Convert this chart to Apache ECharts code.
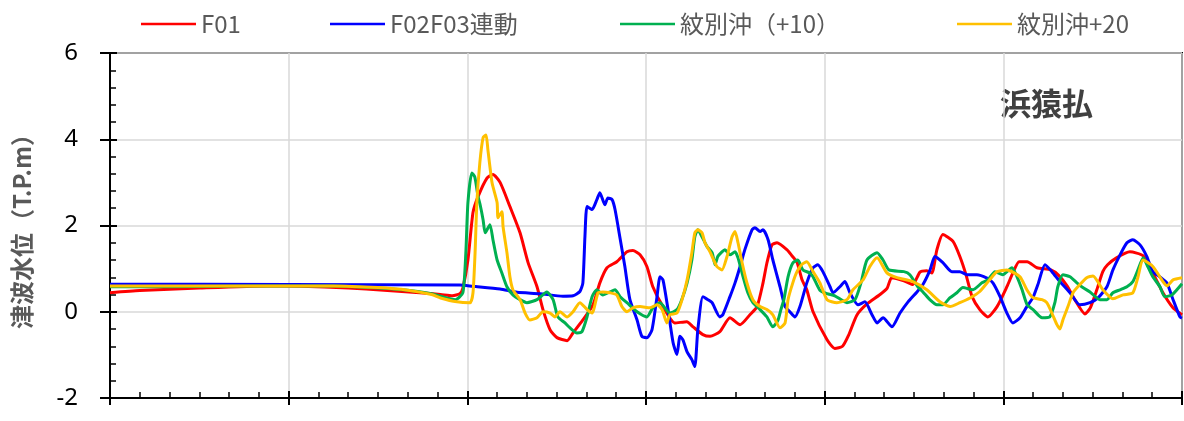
<!DOCTYPE html>
<html>
<head>
<meta charset="utf-8">
<script src="https://cdn.jsdelivr.net/npm/echarts@6/dist/echarts.min.js"></script>
<style>
html,body{margin:0;padding:0;background:#fff;}
#chart{width:1184px;height:421px;}
</style>
</head>
<body>
<div id="chart"></div>
<script>
// Series names
const seriesNames = ['F01', 'F02F03連動', '紋別沖（+10）', '紋別沖+20'];
const yTicks = [-2, 0, 2, 4, 6];
const stationLabel = '浜猿払';
const yTitle = '津波水位（T.P.m）';

// [time (min), water level (m)]
const f01 = [[0,0.44],[10,0.49],[30,0.55],[53,0.6],[64,0.59],[80,0.55],[92,0.5],[104,0.44],[111,0.4],[115,0.37],[117.5,0.42],[118.5,0.55],[120.2,1.2],[121.9,2.3],[123.6,2.67],[126.6,3.1],[128.6,3.18],[131,3.0],[134.3,2.44],[137.7,1.83],[140.4,1.14],[143.4,0.58],[145.4,0.05],[147.8,-0.42],[150.1,-0.6],[153.5,-0.67],[155.5,-0.49],[158.8,-0.19],[162.2,0.16],[164.5,0.67],[166.9,1.02],[170.2,1.16],[173.6,1.39],[175.6,1.42],[178,1.32],[180.3,1.05],[182.3,0.58],[185.7,0.12],[189.7,-0.26],[193.7,-0.23],[195.8,-0.35],[199.1,-0.53],[201.5,-0.57],[204.8,-0.46],[208.2,-0.14],[211.6,-0.3],[214.9,-0.07],[217.3,0.12],[219.3,0.67],[220.6,1.13],[222.3,1.55],[224,1.6],[227.3,1.44],[229,1.3],[230.7,1.15],[232.4,0.74],[234,0.51],[236.1,0],[240.8,-0.65],[243.4,-0.85],[246,-0.8],[248,-0.55],[250.8,-0.08],[254.2,0.18],[258.6,0.4],[261,0.55],[262.5,0.79],[266.6,0.72],[269.6,0.63],[272,0.92],[274.3,0.95],[276,0.9],[277.7,1.44],[279.7,1.79],[283.1,1.63],[285.4,1.28],[287.5,0.85],[289.5,0.35],[292.1,0.05],[294.8,-0.12],[297.9,0.12],[301.2,0.58],[303.2,0.9],[305.3,1.16],[308,1.16],[311.3,1.02],[316,0.97],[318.5,0.85],[321.4,0.6],[324,0.28],[327.4,-0.05],[329.2,0.09],[331.4,0.51],[333.4,0.93],[335,1.09],[338,1.25],[342.5,1.39],[346.9,1.3],[350.2,0.9],[353.6,0.44],[356.9,0.1],[360,-0.07]];

const f02f03 = [[0,0.64],[60,0.63],[117.5,0.62],[121.9,0.59],[131,0.53],[136.7,0.45],[144.4,0.42],[152.1,0.36],[155.5,0.37],[157.8,0.47],[158.8,0.67],[159.5,1.75],[160.2,2.44],[161.9,2.37],[163.5,2.6],[164.5,2.76],[166.2,2.48],[167.2,2.64],[168.6,2.6],[169.6,2.37],[171.3,1.7],[172.9,1.05],[174.6,0.28],[177,-0.19],[178.6,-0.57],[180.3,-0.6],[182,-0.42],[183.7,0.35],[184.7,0.81],[185.7,0.74],[187.4,0.05],[189.1,-0.72],[190.4,-0.99],[191.4,-0.57],[192.4,-0.65],[193.8,-0.93],[195.4,-1.11],[196.4,-1.27],[197.4,-0.42],[199.1,0.35],[200.8,0.28],[202.2,0.21],[204.8,-0.12],[205.8,-0.07],[208.2,0.35],[209.9,0.67],[211.6,1.05],[213.2,1.44],[215.6,1.9],[216.6,1.95],[218.3,1.86],[219.3,1.9],[221,1.67],[222.6,1.2],[225,0.58],[226.7,0.12],[228.3,0],[230,-0.12],[231.7,0.12],[234,0.67],[236.1,1.02],[237.7,1.09],[239.4,0.93],[241.8,0.58],[242.8,0.44],[245.1,0.58],[246.8,0.7],[248.5,0.44],[251.2,0.16],[253.5,0.23],[255.9,-0.07],[257.6,-0.26],[259.6,-0.14],[262.6,-0.35],[265.3,-0.03],[268,0.23],[271,0.46],[273,0.63],[275.4,0.97],[277,1.28],[279.7,1.14],[282.7,0.93],[285.4,0.93],[287.8,0.86],[291.1,0.86],[294.5,0.78],[296.5,0.67],[298.9,0.35],[301.2,-0.03],[303.2,-0.26],[305.6,-0.14],[307.9,0.12],[309.9,0.32],[311.6,0.63],[314,1.09],[316.3,0.93],[319,0.7],[322.4,0.44],[325.7,0.16],[329.1,0.21],[331.8,0.32],[334.8,0.58],[336.8,0.97],[339.2,1.32],[341.5,1.6],[343.5,1.67],[345.9,1.55],[348.2,1.28],[350.2,0.93],[352.6,0.81],[354.9,0.67],[357,0.28],[359.3,-0.12],[360,-0.15]];

const mombetsu10 = [[0,0.58],[20,0.58],[50,0.6],[75,0.6],[90,0.55],[100,0.5],[108,0.42],[111,0.36],[116,0.28],[118.5,0.44],[119.5,1.37],[120.2,2.53],[121.5,3.22],[122.5,3.13],[123.6,2.67],[124.3,2.48],[125.3,2.13],[126,1.83],[127.6,2.02],[128.6,1.67],[130,1.2],[131.6,0.9],[133.3,0.58],[135.3,0.39],[137.7,0.28],[140,0.21],[143.4,0.28],[146.7,0.46],[148.8,0.28],[150.4,-0.12],[152.8,-0.26],[154.4,-0.37],[156.8,-0.49],[158.5,-0.46],[160.2,-0.12],[161.9,0.35],[163.5,0.51],[165.5,0.39],[167.9,0.46],[169.6,0.51],[171.3,0.35],[173.6,0.21],[177,0],[180.3,-0.12],[182.3,0.09],[184.7,0.21],[188,-0.03],[190.4,0.05],[192,0.28],[193.8,0.67],[195.4,1.2],[196.4,1.74],[197.4,1.9],[198.8,1.74],[200.5,1.51],[202.2,1.37],[203.2,1.09],[204.1,1.28],[205.5,1.39],[206.5,1.44],[208.2,1.32],[209.9,1.39],[210.9,1.25],[212.6,0.81],[214.2,0.44],[215.9,0.21],[218.3,0.05],[220.6,-0.12],[222.6,-0.35],[224.3,-0.2],[225.3,0.05],[226.3,0.28],[227.7,0.81],[229.3,1.13],[231,1.2],[232.7,0.97],[235,0.9],[236.1,0.81],[238.4,0.5],[240.8,0.42],[243.4,0.37],[247.5,0.21],[250.2,0.28],[252.2,0.67],[254.2,1.2],[257.6,1.37],[259.6,1.2],[261.6,0.97],[266.6,0.93],[268.6,0.86],[271.3,0.58],[273,0.46],[275.3,0.28],[277.7,0.16],[279.7,0.16],[282,0.32],[284.4,0.44],[286.4,0.56],[289.8,0.51],[292.8,0.67],[294.8,0.74],[297.2,0.93],[299.8,0.86],[302.9,1.02],[304.6,0.81],[306.3,0.51],[308,0.16],[310,0.05],[313,-0.14],[315.6,-0.12],[317.3,0.21],[318.3,0.58],[320,0.86],[322.4,0.81],[324.7,0.67],[326.7,0.56],[329.1,0.46],[332.4,0.28],[334.8,0.28],[336.8,0.44],[339.2,0.51],[341.5,0.58],[343.5,0.7],[345.2,0.97],[347,1.25],[348.5,1.05],[350.2,0.81],[352.6,0.58],[354.2,0.35],[356.6,0.39],[360,0.65]];

const mombetsu20 = [[0,0.6],[20,0.6],[50,0.6],[75,0.6],[90,0.56],[100,0.5],[108,0.4],[111,0.32],[116.5,0.23],[120.9,0.21],[121.9,0.44],[122.6,1.37],[123.2,2.53],[124.2,3.46],[125.3,4.04],[126.3,4.1],[126.9,3.76],[128.3,2.99],[130,2.53],[130.3,2.18],[131.6,2.32],[132,1.97],[133.3,1.37],[134.3,0.81],[135.3,0.51],[137.7,0.28],[139.4,-0.03],[141,-0.19],[143.4,-0.14],[145.4,0],[147.8,-0.03],[149.4,-0.12],[151.1,0],[153.5,-0.12],[155.5,0],[157.8,0.21],[160.2,0.05],[161.9,-0.03],[163.9,0.44],[165.5,0.46],[167.9,0.44],[170.2,0.39],[171.9,0.12],[173.6,0],[175.6,0.09],[178,0.12],[181.3,0.09],[183.7,0.16],[185.4,0.05],[187,-0.26],[188,-0.07],[190.4,-0.03],[192.1,0.28],[193.8,0.74],[195.4,1.37],[196.4,1.83],[197.4,1.9],[198.8,1.83],[199.8,1.6],[201.5,1.39],[203.8,1.05],[205.5,0.97],[207.2,1.28],[208.9,1.74],[209.9,1.86],[210.9,1.6],[212.2,1.16],[213.9,0.67],[215.9,0.28],[218.3,0.12],[220.6,0.05],[222.6,-0.07],[225,-0.37],[226.7,-0.26],[227.7,0.28],[229.3,0.67],[230.7,0.93],[232.4,1.1],[234,1.16],[236.1,0.93],[238.4,0.67],[240.8,0.28],[244.1,0.21],[247.5,0.28],[249.5,0.51],[252.9,0.74],[255.2,1.05],[257.6,1.25],[260.9,0.9],[264.3,0.79],[269.6,0.7],[274.3,0.51],[278.7,0.23],[282.1,0.12],[285.4,0.21],[288.8,0.32],[292.1,0.47],[295.5,0.75],[297.9,0.93],[301.2,0.97],[305.6,0.81],[307.9,0.51],[309.9,0.33],[313,0.28],[314.6,0.21],[316.3,-0.03],[318,-0.3],[319,-0.4],[320,-0.19],[321.7,0.12],[323.4,0.44],[325.7,0.63],[328,0.79],[330.1,0.83],[333.4,0.51],[336.8,0.3],[340.2,0.39],[343.5,0.44],[345.2,0.8],[346.9,1.2],[350.2,1.05],[353.6,0.7],[355,0.6],[357,0.74],[360,0.79]];

const seriesData = [f01, f02f03, mombetsu10, mombetsu20];
const seriesColors = ['#ff0000', '#0000ff', '#00b050', '#ffc000'];
const legendLeft = [136, 325, 615, 952];

const chart = echarts.init(document.getElementById('chart'), null, {renderer: 'canvas'});

const yMin = yTicks[0], yMax = yTicks[yTicks.length - 1], yStep = yTicks[1] - yTicks[0];
const lblFont = '"Noto Sans", "DejaVu Sans", sans-serif';
const cjkFont = '"Noto Sans CJK JP", "Noto Sans", sans-serif';

const option = {
  animation: false,
  backgroundColor: '#ffffff',
  grid: {left: 110, right: 2, top: 53, bottom: 23, show: true, borderColor: '#000', borderWidth: 2, backgroundColor: 'transparent'},
  legend: seriesNames.map((n, i) => ({
    data: [n],
    left: legendLeft[i],
    top: 7,
    icon: 'rect',
    itemWidth: 55,
    itemHeight: 2.5,
    textStyle: {fontSize: 24, color: '#595959', fontFamily: cjkFont},
    selectedMode: false
  })),
  xAxis: [
    {
      type: 'value', min: 0, max: 360, interval: 60,
      axisLine: {show: true, onZero: false, lineStyle: {color: '#000', width: 2}},
      axisTick: {show: true, inside: true, length: 7, lineStyle: {color: '#000', width: 2}},
      minorTick: {show: true, splitNumber: 6, length: 6, lineStyle: {color: '#000', width: 1.5}},
      splitLine: {show: true, lineStyle: {color: '#d9d9d9', width: 1.5}},
      axisLabel: {show: false}
    },
    {
      type: 'value', min: 0, max: 360, interval: 60, position: 'bottom',
      axisLine: {show: false, onZero: false},
      axisTick: {show: true, inside: false, length: 7, lineStyle: {color: '#000', width: 2}},
      splitLine: {show: false},
      axisLabel: {show: false}
    }
  ],
  yAxis: [
    {
      type: 'value', min: yMin, max: yMax, interval: yStep,
      name: yTitle, nameLocation: 'middle', nameGap: 76,
      nameTextStyle: {fontSize: 24, fontWeight: 'bold', color: '#595959', fontFamily: cjkFont},
      axisLine: {show: true, onZero: false, lineStyle: {color: '#000', width: 2}},
      axisTick: {show: true, inside: true, length: 7, lineStyle: {color: '#000', width: 2}},
      minorTick: {show: true, splitNumber: 5, length: 6, lineStyle: {color: '#000', width: 1.5}},
      splitLine: {show: true, lineStyle: {color: '#d9d9d9', width: 1.5}},
      axisLabel: {show: true, fontSize: 24, color: '#000', margin: 32, fontFamily: lblFont}
    },
    {
      type: 'value', min: yMin, max: yMax, interval: yStep, position: 'left',
      axisLine: {show: false, onZero: false},
      axisTick: {show: true, inside: false, length: 10, lineStyle: {color: '#000', width: 2}},
      splitLine: {show: false},
      axisLabel: {show: false}
    }
  ],
  graphic: [{
    type: 'text', left: 1000, top: 88,
    style: {text: stationLabel, fontSize: 31, fontWeight: 'bold', fill: '#404040', fontFamily: cjkFont}
  }],
  series: seriesNames.map((n, i) => ({
    name: n,
    type: 'line',
    xAxisIndex: 0, yAxisIndex: 0,
    data: seriesData[i],
    showSymbol: false,
    symbol: 'none',
    smooth: 0.2,
    lineStyle: {color: seriesColors[i], width: 3},
    itemStyle: {color: seriesColors[i]}
  }))
};
chart.setOption(option);
</script>
</body>
</html>
